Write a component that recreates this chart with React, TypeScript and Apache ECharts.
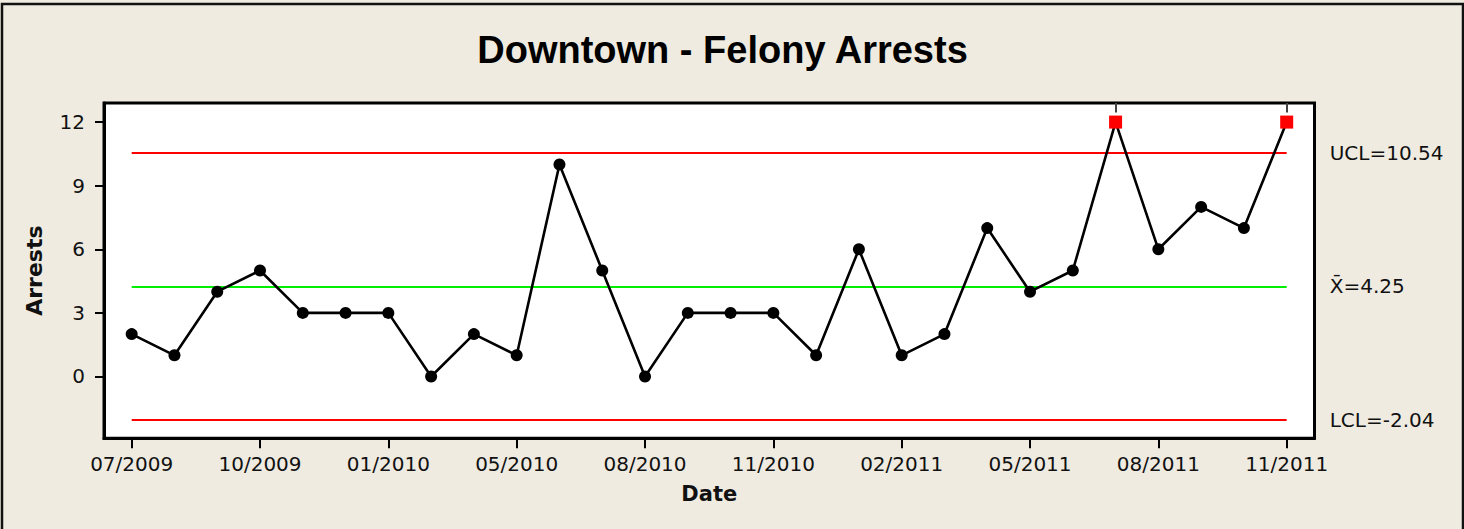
import React, { useEffect, useRef } from "react";
import * as echarts from "echarts";

// Data (monthly felony arrests, I-chart)
const arrests: number[] = [2, 1, 4, 5, 3, 3, 3, 0, 2, 1, 10, 5, 0, 3, 3, 3, 1, 6, 1, 2, 7, 4, 5, 12, 6, 8, 7, 12];
const tickIndex: number[] = [0, 3, 6, 9, 12, 15, 18, 21, 24, 27];
const tickLabels: string[] = ["07/2009", "10/2009", "01/2010", "05/2010", "08/2010", "11/2010", "02/2011", "05/2011", "08/2011", "11/2011"];
const yTicks: number[] = [0, 3, 6, 9, 12];
const UCL = 10.54;
const MEAN = 4.25;
const LCL = -2.04;

const FONT = '"DejaVu Sans", sans-serif';

export default function App() {
  const ref = useRef<HTMLDivElement>(null);
  useEffect(() => {
    if (!ref.current) return;
    const chart = echarts.init(ref.current, undefined, { renderer: "svg" });
    const last = arrests.length - 1;
    const pointData = arrests.map((v, i) =>
      v > UCL || v < LCL
        ? { value: [i, v], symbol: "rect", symbolSize: 13, itemStyle: { color: "#ff0000" } }
        : { value: [i, v] }
    );
    const failIdx = arrests.map((v, i) => (v > UCL || v < LCL ? i : -1)).filter((i) => i >= 0);
    const yMax = 12.9;
    const yMin = -2.915;
    const limitLine = (val: number, color: string, text: string) => [
      { coord: [0, val], lineStyle: { color, width: 2.2, type: "solid" }, label: { formatter: text } },
      { coord: [last, val] },
    ];
    chart.setOption({
      animation: false,
      backgroundColor: "#efebe1",
      graphic: [
        {
          type: "rect",
          shape: { x: 2, y: 4, width: 1461, height: 540 },
          style: { fill: "none", stroke: "#111", lineWidth: 2.5 },
          silent: true,
        },
        {
          type: "text",
          x: 722.5,
          y: 49.5,
          style: {
            text: "Downtown - Felony Arrests",
            font: 'bold 38px "Liberation Sans", Arial, sans-serif',
            fill: "#000",
            align: "center",
            verticalAlign: "middle",
          },
        },
      ],
      grid: {
        left: 104,
        top: 103,
        width: 1210.5,
        height: 335.3,
        show: true,
        backgroundColor: "#ffffff",
        borderColor: "#000",
        borderWidth: 3,
      },
      xAxis: {
        type: "value",
        min: -0.647,
        max: 27.65,
        name: "Date",
        nameLocation: "middle",
        nameGap: 45,
        nameTextStyle: { fontFamily: FONT, fontWeight: "bold", fontSize: 21, color: "#111" },
        axisLine: { show: true, onZero: false, lineStyle: { color: "#000", width: 3 } },
        axisTick: { show: true, customValues: tickIndex, length: 10, lineStyle: { color: "#000", width: 2 } },
        axisLabel: {
          customValues: tickIndex,
          formatter: (v: number) => tickLabels[tickIndex.indexOf(Math.round(v))] ?? "",
          fontFamily: FONT,
          fontSize: 20,
          color: "#111",
          margin: 16,
        },
        splitLine: { show: false },
      },
      yAxis: {
        type: "value",
        min: yMin,
        max: yMax,
        name: "Arrests",
        nameLocation: "middle",
        nameGap: 59,
        nameTextStyle: { fontFamily: FONT, fontWeight: "bold", fontSize: 22, color: "#111" },
        axisLine: { show: true, onZero: false, lineStyle: { color: "#000", width: 3 } },
        axisTick: { show: true, customValues: yTicks, length: 9, lineStyle: { color: "#000", width: 2 } },
        axisLabel: {
          customValues: yTicks,
          fontFamily: FONT,
          fontSize: 20,
          color: "#111",
          margin: 19,
        },
        splitLine: { show: false },
      },
      series: [
        {
          type: "line",
          data: pointData,
          symbol: "circle",
          symbolSize: 12,
          lineStyle: { color: "#000", width: 2.6 },
          itemStyle: { color: "#000" },
          z: 5,
          markLine: {
            silent: true,
            symbol: "none",
            label: {
              show: true,
              position: "end",
              distance: 43,
              fontFamily: FONT,
              fontSize: 20,
              color: "#111",
            },
            data: [
              limitLine(UCL, "#ff0000", "UCL=" + UCL.toFixed(2)),
              limitLine(MEAN, "#00ee00", "X\u0304=" + MEAN.toFixed(2)),
              limitLine(LCL, "#ff0000", "LCL=" + LCL.toFixed(2)),
              ...failIdx.map((i) => [
                { coord: [i, yMax], lineStyle: { color: "#444", width: 2, type: "solid" }, label: { show: false } },
                { coord: [i, arrests[i] + 0.45] },
              ]),
            ],
          },
        },
      ],
    });
    return () => chart.dispose();
  }, []);
  return (
    <div
      ref={ref}
      style={{ position: "fixed", left: 0, top: 0, width: 1464, height: 529, background: "#ffffff" }}
    />
  );
}
